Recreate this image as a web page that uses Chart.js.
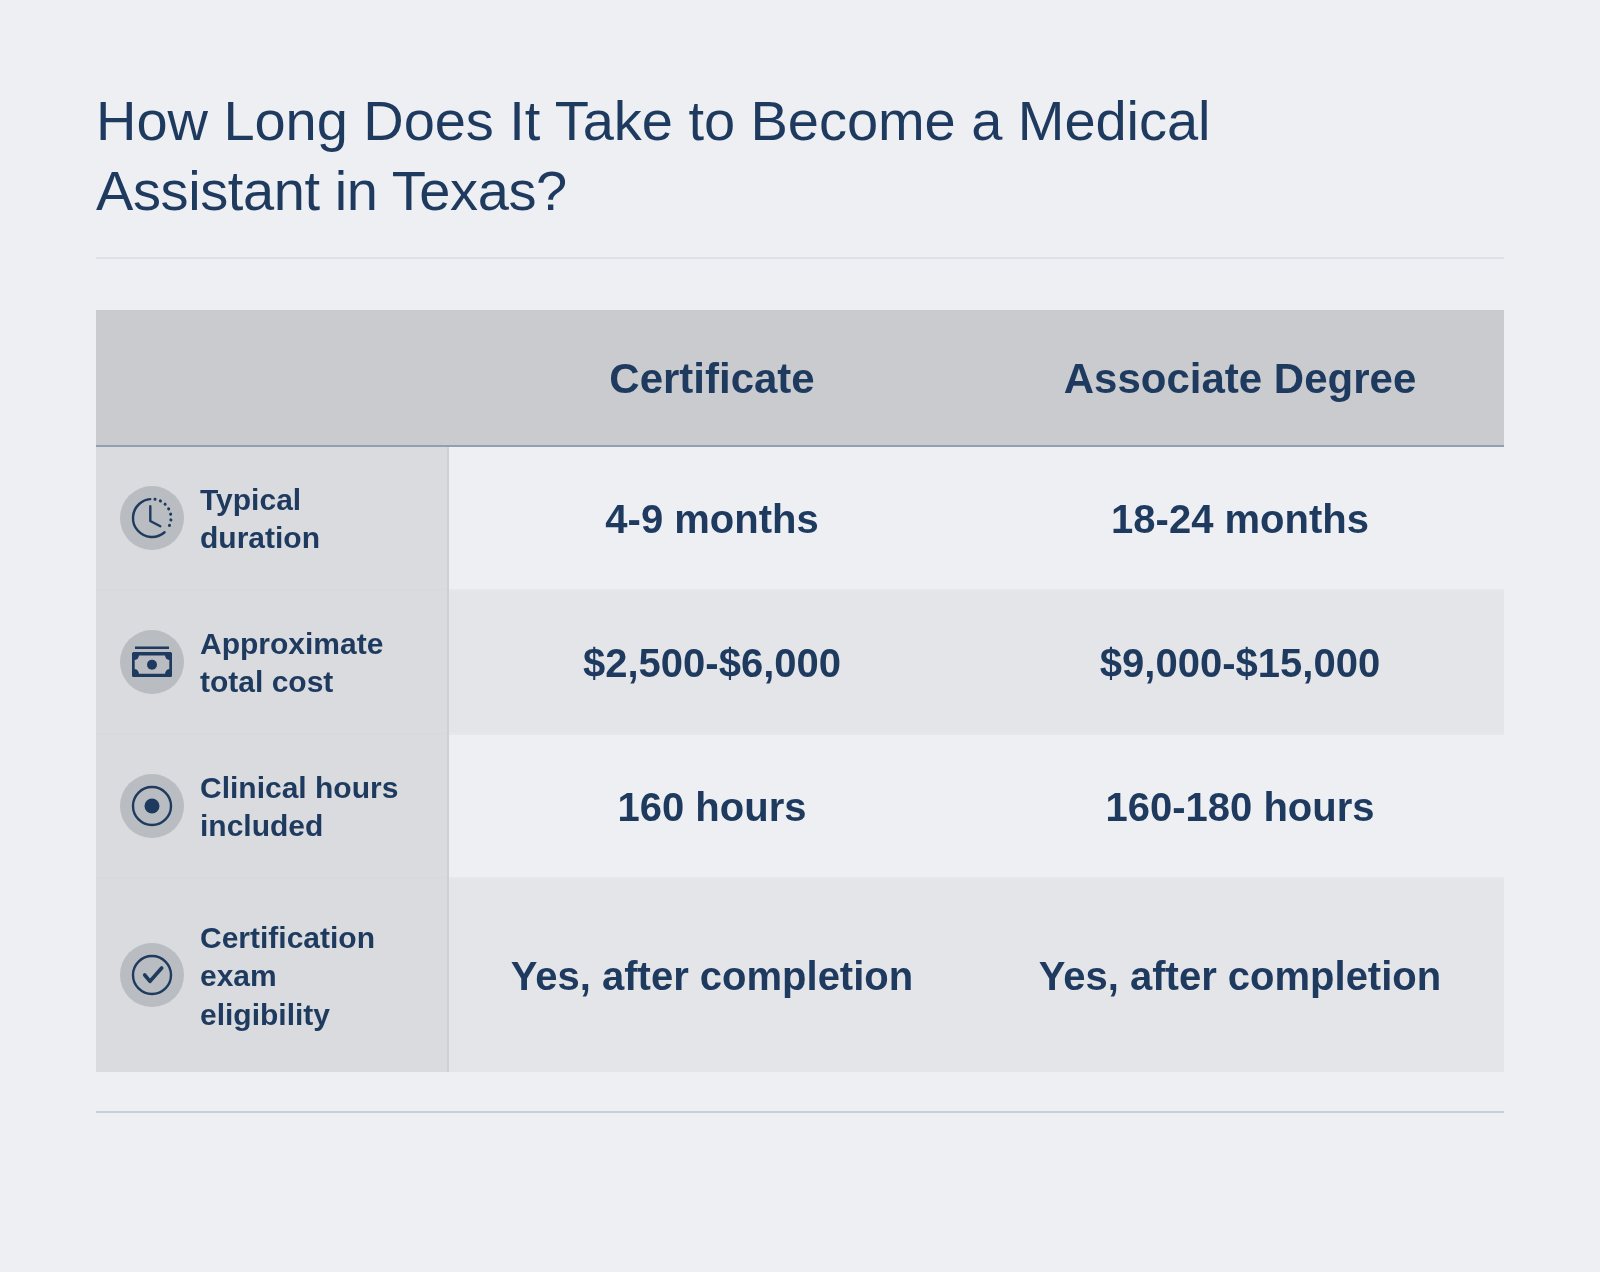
<!DOCTYPE html>
<html>
<head>
<meta charset="utf-8">
<title>How Long Does It Take to Become a Medical Assistant in Texas?</title>
<script src="https://cdn.jsdelivr.net/npm/chart.js@4"></script>
<style>
  html, body { margin: 0; padding: 0; background: #edeff3; }
  body { position: relative; width: 1600px; height: 1272px; overflow: hidden; }
  h1 {
    position: absolute; left: 96px; top: 86px; margin: 0; width: 1408px;
    font: 400 56px/70px "Liberation Sans", Arial, sans-serif; color: #1f3a5f;
  }
  h1 span { display: block; white-space: nowrap; }
  .rule { position: absolute; left: 96px; width: 1408px; height: 2px; }
  #chart { position: absolute; left: 0; top: 0; }
</style>
</head>
<body>
<canvas id="chart" width="1600" height="1272"></canvas>
<h1><span style="letter-spacing:-0.05px">How Long Does It Take to Become a Medical</span><span style="letter-spacing:-0.4px">Assistant in Texas?</span></h1>
<div class="rule" style="top:257px;background:#dde0e6"></div>
<div class="rule" style="top:1111px;background:#c6cfd9"></div>
<script>
const columns = ['Certificate', 'Associate Degree'];
const rowLabels = [
  ['Typical', 'duration'],
  ['Approximate', 'total cost'],
  ['Clinical hours', 'included'],
  ['Certification', 'exam', 'eligibility']
];
const certificateValues = ['4-9 months', '$2,500-$6,000', '160 hours', 'Yes, after completion'];
const associateValues = ['18-24 months', '$9,000-$15,000', '160-180 hours', 'Yes, after completion'];
const rowIcons = ['clock', 'money', 'target', 'check'];
const rowHeights = [144, 144, 144, 194];

const navy = '#1f3a5f';
const iconBg = '#b9bcc0';
const rowColors = ['#edeff3', '#e3e5e9', '#edeff3', '#e3e5e9'];

// row edges on the y scale, top to bottom
const rowEdges = [0];
rowHeights.forEach(h => rowEdges.push(rowEdges[rowEdges.length - 1] + h));
const rowCentres = rowHeights.map((h, i) => rowEdges[i] + h / 2);

const datasets = rowHeights.map((h, i) => ({
  label: rowLabels[i].join(' '),
  data: columns.map(() => [rowEdges[i], rowEdges[i + 1]]),
  backgroundColor: rowColors[i],
  borderWidth: 0,
  borderSkipped: false,
  grouped: false,
  barPercentage: 1,
  categoryPercentage: 1
}));

function drawIcon(ctx, kind, cx, cy) {
  ctx.save();
  ctx.translate(cx, cy);
  ctx.fillStyle = iconBg;
  ctx.beginPath();
  ctx.arc(0, 0, 32, 0, Math.PI * 2);
  ctx.fill();
  ctx.strokeStyle = navy;
  ctx.fillStyle = navy;
  ctx.lineWidth = 2.4;
  ctx.lineCap = 'round';
  ctx.lineJoin = 'round';
  if (kind === 'clock') {
    ctx.beginPath();
    ctx.arc(0, 0, 19, Math.PI * 0.27, Math.PI * 1.47);
    ctx.stroke();
    ctx.lineWidth = 3;
    ctx.setLineDash([0.1, 5.6]);
    ctx.beginPath();
    ctx.arc(0, 0, 19, -Math.PI * 0.45, Math.PI * 0.2);
    ctx.stroke();
    ctx.setLineDash([]);
    ctx.lineWidth = 2.4;
    ctx.beginPath();
    ctx.moveTo(-1.7, -11.7);
    ctx.lineTo(-1.7, 3);
    ctx.lineTo(8.3, 8.3);
    ctx.stroke();
  } else if (kind === 'money') {
    ctx.lineCap = 'butt';
    ctx.beginPath();
    ctx.moveTo(-17, -14.3);
    ctx.lineTo(17, -14.3);
    ctx.stroke();
    ctx.beginPath();
    ctx.roundRect(-20, -10, 40, 25, 1.5);
    ctx.fill();
    // note face, corners bite inwards
    ctx.fillStyle = iconBg;
    ctx.beginPath();
    ctx.moveTo(-13, -6.5);
    ctx.lineTo(13, -6.5);
    ctx.quadraticCurveTo(13.5, -2.5, 17.3, -2);
    ctx.lineTo(17.3, 7);
    ctx.quadraticCurveTo(13.5, 7.5, 13, 11.8);
    ctx.lineTo(-13, 11.8);
    ctx.quadraticCurveTo(-13.5, 7.5, -17.3, 7);
    ctx.lineTo(-17.3, -2);
    ctx.quadraticCurveTo(-13.5, -2.5, -13, -6.5);
    ctx.closePath();
    ctx.fill();
    ctx.fillStyle = navy;
    ctx.beginPath();
    ctx.arc(0, 2.7, 5, 0, Math.PI * 2);
    ctx.fill();
  } else {
    ctx.beginPath();
    ctx.arc(0, 0, 19, 0, Math.PI * 2);
    ctx.stroke();
    if (kind === 'target') {
      ctx.beginPath();
      ctx.arc(0, 0, 7.5, 0, Math.PI * 2);
      ctx.fill();
    } else {
      ctx.lineWidth = 3.6;
      ctx.beginPath();
      ctx.moveTo(-7.3, 0);
      ctx.lineTo(-2, 6.3);
      ctx.lineTo(9.7, -7);
      ctx.stroke();
    }
  }
  ctx.restore();
}

const tablePlugin = {
  id: 'tablePlugin',
  // has to run before the axes paint their labels
  beforeDraw(chart) {
    const { ctx, chartArea } = chart;
    ctx.save();
    ctx.fillStyle = '#c9cbcf';
    ctx.fillRect(96, 310, 1408, chartArea.top - 310);
    ctx.fillStyle = '#d9dbdf';
    ctx.fillRect(96, chartArea.top, chartArea.left - 96, chartArea.height);
    ctx.restore();
  },
  afterDatasetsDraw(chart) {
    const { ctx, chartArea, scales } = chart;
    ctx.save();
    // row separators
    ctx.fillStyle = '#e6e8ec';
    rowEdges.slice(1, -1).forEach(v => {
      ctx.fillRect(chartArea.left, scales.y.getPixelForValue(v) - 1, chartArea.width, 2);
    });
    ctx.fillStyle = '#d6d8dc';
    rowEdges.slice(1, -1).forEach(v => {
      ctx.fillRect(96, scales.y.getPixelForValue(v) - 1, chartArea.left - 96, 1);
    });
    // column divider and header underline
    ctx.fillStyle = '#cdd0d5';
    ctx.fillRect(chartArea.left - 1, chartArea.top, 2, chartArea.height);
    ctx.fillStyle = '#919fb4';
    ctx.fillRect(96, chartArea.top - 1, 1408, 2);

    // cell text
    ctx.font = 'bold 40px "Liberation Sans", Arial, sans-serif';
    ctx.fillStyle = navy;
    ctx.textAlign = 'center';
    ctx.textBaseline = 'middle';
    [certificateValues, associateValues].forEach((values, c) => {
      values.forEach((text, r) => {
        const bar = chart.getDatasetMeta(r).data[c];
        ctx.fillText(text, bar.x, (bar.y + bar.base) / 2 + 4);
      });
    });
    ctx.restore();

    rowIcons.forEach((kind, r) => {
      drawIcon(ctx, kind, 152, scales.y.getPixelForValue(rowCentres[r]));
    });
  }
};

new Chart(document.getElementById('chart'), {
  type: 'bar',
  data: { labels: columns, datasets },
  plugins: [tablePlugin],
  options: {
    responsive: false,
    animation: false,
    devicePixelRatio: 1,
    layout: { padding: { left: 200, right: 96, top: 310, bottom: 200 } },
    plugins: { legend: { display: false }, title: { display: false }, tooltip: { enabled: false } },
    scales: {
      x: {
        type: 'category',
        position: 'top',
        offset: true,
        afterFit: scale => { scale.height = 136; },
        grid: { display: false, drawTicks: false },
        border: { display: false },
        ticks: {
          color: navy,
          padding: 39,
          maxRotation: 0,
          autoSkip: false,
          font: { family: '"Liberation Sans", Arial, sans-serif', weight: 'bold', size: 42 }
        }
      },
      y: {
        type: 'linear',
        reverse: true,
        min: 0,
        max: rowEdges[rowEdges.length - 1],
        afterFit: scale => { scale.width = 248; },
        // labels sit a little under the row centre
        afterBuildTicks: scale => { scale.ticks = rowCentres.map(value => ({ value: value + 3 })); },
        grid: { display: false, drawTicks: false },
        border: { display: false },
        ticks: {
          color: navy,
          crossAlign: 'far',
          autoSkip: false,
          padding: 0,
          callback: (value, index) => rowLabels[index],
          font: { family: '"Liberation Sans", Arial, sans-serif', weight: 'bold', size: 30, lineHeight: 1.28 }
        }
      }
    }
  }
});
</script>
</body>
</html>
